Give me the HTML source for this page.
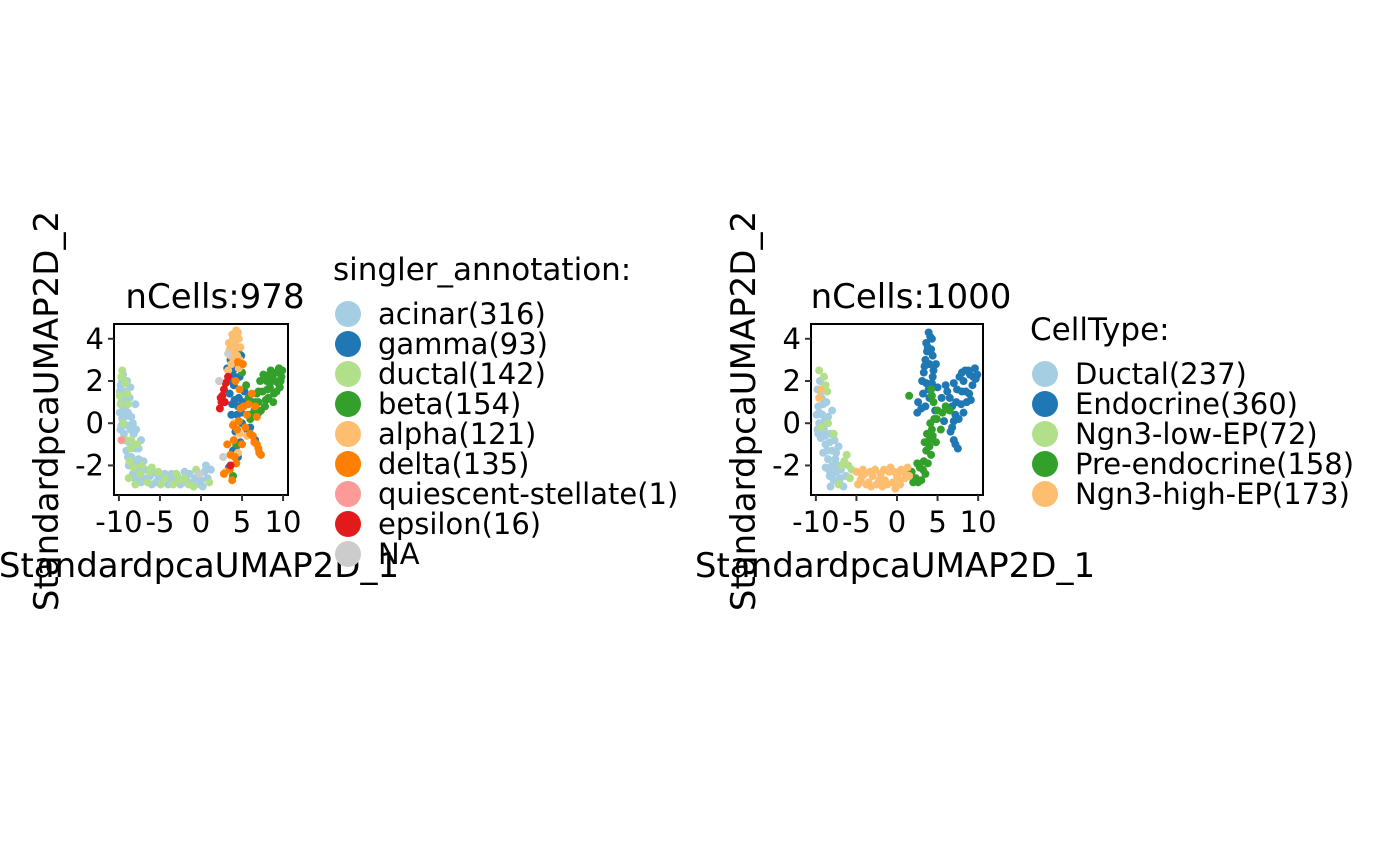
<!DOCTYPE html>
<html><head><meta charset="utf-8"><style>
html,body{margin:0;padding:0;background:#fff;}
svg{display:block;font-family:"DejaVu Sans","Liberation Sans",sans-serif;}
</style></head><body>
<svg id="chart" width="1400" height="866" viewBox="0 0 1400 866"></svg>
<script>
const xTicks=[-10,-5,0,5,10];
const xTickLabels=["-10","-5","0","5","10"];
const yTicks=[4,2,0,-2];
const yTickLabels=["4","2","0","-2"];

const leftNames=["acinar(316)","gamma(93)","ductal(142)","beta(154)","alpha(121)","delta(135)","quiescent-stellate(1)","epsilon(16)","NA"];
const leftColors=["#A6CEE3","#1F78B4","#B2DF8A","#33A02C","#FDBF6F","#FF7F00","#FB9A99","#E31A1C","#CCCCCC"];
const acinar=[[-9.5,2.3],[-9.8,1.8],[-9.3,1.5],[-9.7,1.0],[-9.2,0.6],[-9.6,0.2],[-9.0,-0.1],[-9.4,-0.5],[-8.8,-0.9],[-9.1,-1.3],[-8.5,-1.6],[-8.8,-2.0],[-8.0,-1.9],[-8.3,-2.4],[-7.5,-2.3],[-7.8,-2.7],[-7.0,-2.6],[-6.2,-2.5],[-5.5,-2.8],[-4.8,-2.6],[-4.0,-2.9],[-3.2,-2.7],[-2.5,-2.9],[-1.8,-2.6],[-1.0,-2.8],[-0.3,-2.5],[0.2,-3.0],[0.8,-2.6],[1.2,-2.2],[-8.7,1.2],[-8.5,0.3],[-8.2,-0.5],[-8.0,-1.2],[-7.6,-1.7],[-9.9,0.5],[-9.8,-0.3],[-6.8,-2.2],[-5.8,-2.3],[-3.6,-2.4],[-2.0,-2.3],[0.6,-2.0],[-9.0,2.0],[-8.0,0.9],[-7.3,-0.8],[-7.0,-1.8],[-9.6,2.0],[-9.4,1.2],[-9.9,1.5],[-9.5,0.8],[-9.3,0.3],[-9.7,-0.1],[-9.2,-0.8],[-8.9,-1.6],[-8.6,-0.3],[-8.4,-1.0],[-8.1,-2.6],[-7.7,-2.1],[-7.3,-2.8],[-6.6,-2.7],[-6.0,-2.9],[-5.2,-2.5],[-4.4,-2.4],[-3.9,-2.6],[-2.9,-2.5],[-2.2,-2.8],[-1.4,-2.4],[-0.7,-2.6],[0.0,-2.7],[0.4,-2.3],[-0.1,-2.9],[-8.9,0.5],[-8.3,0.0],[-7.9,-0.3],[-7.6,-1.2],[-9.1,1.0],[-8.6,1.7]];
const gamma=[[3.6,3.0],[4.2,2.6],[3.3,2.0],[4.0,1.8],[4.6,1.2],[3.8,0.9],[4.4,0.4],[5.0,0.0],[4.2,-0.4],[4.8,-0.9],[3.9,-1.3],[4.5,-1.6],[3.4,-2.1],[5.3,1.5],[6.2,1.0],[7.0,0.5],[4.7,2.2],[5.6,-0.3],[3.5,1.4],[4.9,3.2],[6.6,-0.8],[4.1,1.1],[4.5,0.8],[3.7,0.4],[4.9,0.5],[3.9,2.3],[4.3,-1.1],[5.1,1.0],[5.8,0.4],[3.2,2.6],[6.0,-0.2]];
const ductal=[[-9.6,2.5],[-9.9,1.3],[-8.9,0.9],[-9.3,-0.8],[-8.6,-1.2],[-8.2,-2.1],[-7.2,-2.0],[-6.5,-2.8],[-5.2,-2.3],[-4.4,-2.6],[-3.0,-2.4],[-1.5,-2.9],[-0.6,-2.2],[-9.5,0.0],[-8.8,-2.6],[-7.8,-1.0],[-2.6,-2.7],[-6.0,-2.1],[-9.2,1.9],[1.0,-2.8],[-9.7,2.2],[-9.0,1.4],[-8.5,-0.8],[-8.0,-2.9],[-7.4,-2.4],[-6.3,-2.3],[-4.9,-2.9],[-3.4,-2.9],[-2.0,-2.6],[-0.9,-3.0],[-9.8,0.9],[-8.7,-1.8]];
const beta=[[7.5,1.5],[8.0,2.0],[8.5,2.5],[9.0,2.0],[9.5,2.6],[9.8,2.2],[8.2,1.2],[7.0,1.0],[6.5,0.6],[7.8,0.8],[9.2,1.5],[8.8,1.0],[6.0,0.2],[5.5,1.8],[4.6,3.5],[5.0,2.4],[4.3,-1.0],[3.9,-2.5],[7.2,2.0],[9.6,1.7],[8.4,1.7],[6.8,1.4],[7.6,2.3],[8.1,1.6],[8.7,2.2],[9.2,2.4],[9.9,2.5],[9.4,1.9],[8.9,1.4],[7.3,0.6],[6.6,1.0],[7.9,1.1],[8.6,2.0],[9.7,2.0],[8.3,2.3],[7.0,1.5],[6.3,0.4],[5.8,1.2]];
const alpha=[[3.8,4.2],[4.3,4.4],[4.6,4.0],[4.0,3.7],[3.5,3.5],[4.4,3.2],[3.7,2.8],[4.2,3.9],[4.8,3.6],[3.3,2.5],[4.0,0.0],[4.7,-0.5],[3.0,-2.3],[5.6,-0.6],[4.5,-1.4],[3.9,4.0],[4.5,4.3],[3.6,3.2],[4.1,3.4],[4.7,3.0],[3.4,3.8],[4.3,3.6],[3.9,3.1],[4.6,2.6]];
const delta=[[4.2,2.0],[4.7,1.6],[5.2,0.8],[4.6,0.1],[4.0,-0.8],[4.3,-1.9],[3.6,-1.5],[5.4,-0.2],[6.0,-0.5],[6.5,-0.9],[7.0,-1.2],[7.3,-1.5],[5.8,0.9],[6.8,0.3],[2.8,-2.4],[3.2,-1.0],[5.1,2.8],[4.5,2.9],[3.8,-2.7],[6.2,1.4],[4.4,-0.3],[3.9,-0.1],[5.0,-1.0],[6.3,-0.6],[6.8,-1.0],[7.1,-1.4],[4.1,-1.6],[3.5,-2.2],[5.6,0.4],[6.6,0.8],[4.8,0.7]];
const quiescent=[[-9.7,-0.8]];
const epsilon=[[2.3,0.7],[2.5,1.0],[2.6,1.3],[2.8,1.6],[3.0,1.9],[3.3,2.2],[2.4,1.2],[3.6,-2.0],[2.9,1.0]];
const naCells=[[2.2,2.0],[2.7,-1.6],[-0.2,-2.4],[3.3,3.3]];
const leftSeries=[acinar,gamma,ductal,beta,alpha,delta,quiescent,epsilon,naCells];

const rightNames=["Ductal(237)","Endocrine(360)","Ngn3-low-EP(72)","Pre-endocrine(158)","Ngn3-high-EP(173)"];
const rightColors=["#A6CEE3","#1F78B4","#B2DF8A","#33A02C","#FDBF6F"];
const ductalR=[[-9.5,2.0],[-9.8,1.6],[-9.3,1.2],[-9.7,0.8],[-9.2,0.4],[-9.6,0.0],[-9.0,-0.3],[-9.4,-0.7],[-8.8,-1.0],[-9.1,-1.4],[-8.5,-1.7],[-8.8,-2.1],[-8.0,-2.0],[-8.3,-2.5],[-7.5,-2.3],[-7.8,-2.7],[-7.0,-2.6],[-6.3,-2.5],[-6.6,-3.0],[-8.7,1.0],[-8.5,0.3],[-8.2,-0.5],[-8.0,-1.3],[-7.6,-1.7],[-9.9,0.4],[-9.8,-0.3],[-7.2,-1.1],[-8.2,-3.0],[-9.0,1.7],[-8.0,0.6],[-9.4,1.5],[-9.1,0.9],[-9.6,0.5],[-9.3,-0.2],[-8.9,-0.6],[-8.6,-1.3],[-8.4,-2.2],[-7.9,-2.4],[-7.3,-2.0],[-7.0,-2.9],[-8.9,0.1],[-8.3,-0.9],[-7.7,-0.8],[-7.5,-1.4],[-9.7,-0.5],[-6.9,-2.2]];
const endocrine=[[3.9,4.3],[4.3,4.0],[3.6,3.8],[4.2,3.5],[3.5,3.0],[4.0,2.8],[3.3,2.4],[4.4,2.2],[3.6,1.9],[3.2,1.4],[4.0,1.2],[3.5,0.8],[2.6,1.0],[4.7,0.6],[5.5,1.2],[6.0,1.8],[6.5,1.2],[7.0,1.9],[7.3,1.0],[7.7,2.2],[8.0,1.5],[8.4,2.5],[8.6,1.0],[9.0,2.3],[9.3,1.8],[9.6,2.6],[9.9,2.3],[8.2,0.5],[7.6,0.2],[7.0,0.1],[6.6,-0.4],[7.0,-0.8],[7.5,-1.2],[5.8,0.1],[8.9,1.4],[5.0,1.7],[4.8,2.8],[3.7,3.4],[2.5,0.5],[3.0,0.7],[4.1,4.1],[3.8,3.6],[4.4,3.2],[3.4,2.7],[4.5,2.5],[3.1,2.0],[3.9,1.6],[4.3,1.9],[6.2,1.5],[6.8,0.8],[7.4,1.6],[8.2,2.0],[8.8,2.5],[9.4,2.2],[9.1,1.1],[8.5,1.5],[7.9,0.9],[7.2,0.4],[6.8,-0.2],[7.2,-1.0],[9.7,2.1],[8.0,2.4]];
const ngn3Low=[[-9.6,2.5],[-9.0,2.2],[-8.6,1.5],[-8.5,0.0],[-7.8,-0.5],[-6.5,-1.8],[-6.0,-2.0],[-5.8,-2.6],[-6.8,-2.0],[-7.2,-2.9],[-9.4,-0.2],[-8.8,1.8],[-6.2,-1.5],[-5.6,-2.2]];
const preEndo=[[1.8,-2.3],[2.3,-2.6],[2.8,-2.1],[3.0,-2.7],[3.3,-1.8],[3.6,-1.3],[4.0,-0.8],[4.3,-0.3],[4.6,0.2],[3.8,-1.9],[4.2,-1.5],[2.5,-1.9],[5.0,0.6],[5.4,-0.3],[4.8,-0.9],[1.5,1.3],[4.2,1.6],[4.5,1.0],[3.4,-0.9],[6.5,0.6],[6.0,0.8],[2.0,-2.8],[3.5,-2.4],[4.0,-1.1],[4.4,-0.6],[4.1,0.0],[3.7,-0.5],[2.6,-2.8],[3.2,-2.2],[4.9,0.2],[5.6,0.5],[4.3,1.3]];
const ngn3High=[[-5.0,-2.3],[-4.5,-2.7],[-4.0,-2.4],[-3.5,-2.8],[-3.0,-2.5],[-2.5,-2.9],[-2.0,-2.4],[-1.5,-2.7],[-1.0,-2.3],[-0.5,-2.8],[0.0,-2.5],[0.5,-2.2],[1.0,-2.6],[-0.2,-3.1],[-4.2,-2.2],[-3.2,-3.0],[-1.8,-3.0],[-0.8,-2.1],[0.4,-2.9],[1.3,-2.1],[-9.4,1.6],[-9.6,1.2],[-2.7,-2.2],[-4.8,-2.9],[-3.8,-2.9],[-2.2,-2.7],[-1.2,-2.9],[-0.3,-2.3],[0.8,-2.3],[0.2,-2.7],[-4.3,-2.5],[-3.3,-2.3],[-1.6,-2.2],[1.5,-2.5]];
const rightSeries=[ductalR,endocrine,ngn3Low,preEndo,ngn3High];

const NS="http://www.w3.org/2000/svg";
const svg=document.getElementById('chart');
function mk(tag,attrs,parent,text){const e=document.createElementNS(NS,tag);for(const k in attrs)e.setAttribute(k,attrs[k]);if(text!==undefined)e.textContent=text;(parent||svg).appendChild(e);return e;}

function panel(prefix,box,title,series,colors,names,legTitle,legX,legTitleY,legY0){
  const g=mk('g',{});
  
  
  const sx=v=>box.x0+(v+10.6)*(box.x1-box.x0)/21.2;
  const sy=v=>box.y1-(v+3.4)*(box.y1-box.y0)/8.1;
  series.forEach((pts,si)=>{
    const sg=mk('g',{},g);
    
    
    pts.forEach(p=>{
      const c=mk('circle',{cx:sx(p[0]),cy:sy(p[1]),r:4,fill:colors[si]},sg);
      
      
    });
  });
  const fr=mk('rect',{x:box.x0,y:box.y0,width:box.x1-box.x0,height:box.y1-box.y0,fill:'none',stroke:'#000','stroke-width':2},g);
  
  
  xTicks.forEach((t,i)=>{
    mk('line',{x1:sx(t),x2:sx(t),y1:box.y1,y2:box.y1+6,stroke:'#333','stroke-width':2},g);
    const tl=mk('text',{x:sx(t),y:box.y1+37,'text-anchor':'middle','font-size':29,fill:'#000'},g,xTickLabels[i]);
    
    
  });
  yTicks.forEach((t,i)=>{
    mk('line',{x1:box.x0-6,x2:box.x0,y1:sy(t),y2:sy(t),stroke:'#333','stroke-width':2},g);
    const tl=mk('text',{x:box.x0-10,y:sy(t)+10,'text-anchor':'end','font-size':29,fill:'#000'},g,yTickLabels[i]);
    
    
  });
  const tt=mk('text',{x:(box.x0+box.x1)/2+14,y:308,'text-anchor':'middle','font-size':34},g,title);
  
  
  const xt=mk('text',{x:(box.x0+box.x1)/2-2,y:577,'text-anchor':'middle','font-size':34},g,'StandardpcaUMAP2D_1');
  
  
  const yx=box.x0-56, yy=411;
  const yt=mk('text',{x:yx,y:yy,'text-anchor':'middle','font-size':34,transform:'rotate(-90 '+yx+' '+yy+')'},g,'StandardpcaUMAP2D_2');
  
  
  const lt=mk('text',{x:legX,y:legTitleY,'font-size':31},g,legTitle);
  
  
  names.forEach((n,i)=>{
    const y=legY0+i*30;
    const lg=mk('g',{},g);
    
    
    mk('circle',{cx:legX+15,cy:y,r:13,fill:colors[i]},lg);
    mk('text',{x:legX+45,y:y+10,'font-size':29},lg,n);
  });
}
panel('left',{x0:114,x1:288,y0:324,y1:495},'nCells:978',leftSeries,leftColors,leftNames,'singler_annotation:',333,280,314);
panel('right',{x0:811,x1:983,y0:324,y1:495},'nCells:1000',rightSeries,rightColors,rightNames,'CellType:',1030,340,374);
</script>
</body></html>
